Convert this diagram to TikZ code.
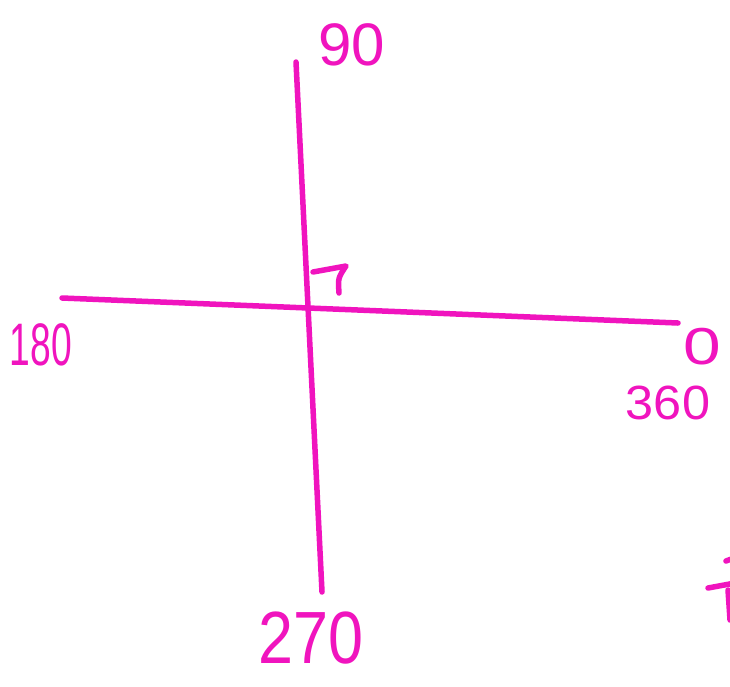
\documentclass[tikz,border=0pt]{standalone}
\usepackage{fontspec}
\setmainfont{Liberation Sans}
\definecolor{pen}{RGB}{240,20,190}
\newcommand{\lblsize}[3]{\scalebox{#2}[1]{\fontsize{#1}{#1}\selectfont #3}}
\begin{document}
\begin{tikzpicture}[x=1pt,y=-1pt,
  stroke/.style={draw=pen,line width=5.5pt,line cap=round,line join=round},
  lbl/.style={text=pen,inner sep=0pt}]
\useasboundingbox[fill=white] (0,0) rectangle (730,686);
\coordinate (vt) at (296,62);
\coordinate (vb) at (322,592);
\coordinate (hl) at (62,298);
\coordinate (hr) at (678,323);
\draw[stroke] (vt) -- (vb);
\draw[stroke] (hl) -- (hr);
\coordinate (r1) at (313,272);
\coordinate (r2) at (346,266);
\coordinate (r3) at (339,293);
\draw[stroke] (r1) -- (r2) .. controls (338,278) .. (r3);
\node[lbl] (n90) at (352,45) {\lblsize{60}{1.0}{90}};
\node[lbl] (n180) at (41,345) {\lblsize{60}{0.62}{180}};
\node[lbl] (n0) at (702,347) {\lblsize{52}{1.3}{0}};
\node[lbl] (n360) at (668,403) {\lblsize{48}{1.05}{360}};
\node[lbl] (n270) at (311,638) {\lblsize{74}{0.85}{270}};
\begin{scope}
\clip (0,0) rectangle (730,686);
\draw[stroke] (708,588) -- (735,583);
\draw[stroke] (726,561) -- (734,558);
\draw[stroke] (728,590) -- (730,620);
\end{scope}
\end{tikzpicture}
\end{document}
